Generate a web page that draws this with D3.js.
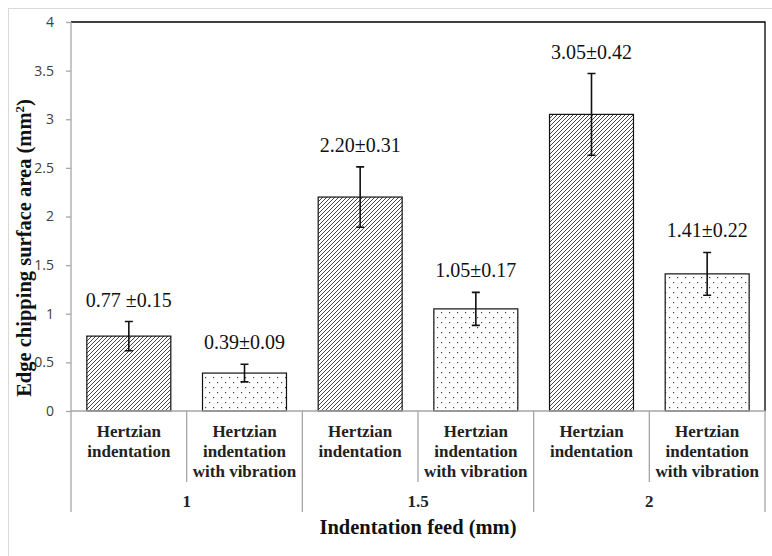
<!DOCTYPE html>
<html>
<head>
<meta charset="utf-8">
<script src="https://cdn.jsdelivr.net/npm/d3@7"></script>
<style>
  html, body { margin: 0; padding: 0; background: #fff; }
  svg { display: block; }
</style>
</head>
<body>
<svg id="chart" width="772" height="556"></svg>
<script>
// Edge chipping surface area by indentation feed and method
const feeds = ["1", "1.5", "2"];
const methods = ["Hertzian indentation", "Hertzian indentation with vibration"];
const methodLines = [["Hertzian", "indentation"], ["Hertzian", "indentation", "with vibration"]];
const meanArea = [0.77, 0.39, 2.20, 1.05, 3.05, 1.41];
const stdDev = [0.15, 0.09, 0.31, 0.17, 0.42, 0.22];
const valueLabels = ["0.77 \u00b10.15", "0.39\u00b10.09", "2.20\u00b10.31", "1.05\u00b10.17", "3.05\u00b10.42", "1.41\u00b10.22"];
const yTicks = [0, 0.5, 1, 1.5, 2, 2.5, 3, 3.5, 4];

const rows = meanArea.map((v, i) => ({
  key: i,
  feed: feeds[Math.floor(i / 2)],
  method: i % 2,
  value: v,
  sd: stdDev[i],
  label: valueLabels[i]
}));

const svg = d3.select("#chart");
const plot = { left: 71, right: 765, top: 22, bottom: 411 };
const serif = "'Liberation Serif', 'Times New Roman', serif";
const axisGrey = "#a6a6a6";

// outer chart frame
svg.append("rect")
  .attr("x", 8.5).attr("y", 8.5).attr("width", 820).attr("height", 620)
  .attr("fill", "#fff").attr("stroke", "#d9d9d9").attr("stroke-width", 1);

// fill patterns
const defs = svg.append("defs");
const hatch = defs.append("pattern")
  .attr("id", "hatch").attr("patternUnits", "userSpaceOnUse")
  .attr("width", 4).attr("height", 4);
hatch.append("rect").attr("width", 4).attr("height", 4).attr("fill", "#fff");
hatch.append("path")
  .attr("d", "M-1,1 L1,-1 M0,4 L4,0 M3,5 L5,3")
  .attr("stroke", "#333").attr("stroke-width", 0.9);

const dots = defs.append("pattern")
  .attr("id", "dots").attr("patternUnits", "userSpaceOnUse")
  .attr("width", 8).attr("height", 10);
dots.append("rect").attr("width", 8).attr("height", 10).attr("fill", "#fff");
dots.append("rect").attr("x", 1).attr("y", 2).attr("width", 1.2).attr("height", 1.2).attr("fill", "#444");
dots.append("rect").attr("x", 5).attr("y", 7).attr("width", 1.2).attr("height", 1.2).attr("fill", "#444");

// scales
const x = d3.scaleBand()
  .domain(rows.map(d => d.key))
  .range([plot.left, plot.right])
  .paddingInner(0.274)
  .paddingOuter(0.137);
const xGroup = d3.scaleBand()
  .domain(feeds)
  .range([plot.left, plot.right]);
const y = d3.scaleLinear().domain([0, 4]).range([plot.bottom, plot.top]);

// plot area frame (top and right)
svg.append("path")
  .attr("d", `M${plot.left},${plot.top} H${plot.right} V${plot.bottom}`)
  .attr("fill", "none").attr("stroke", "#000").attr("stroke-width", 1.3);

// y axis
const yAxis = d3.axisLeft(y).tickValues(yTicks).tickSize(5).tickPadding(12)
  .tickFormat(d3.format("~g"));
const gy = svg.append("g").attr("transform", `translate(${plot.left},0)`).call(yAxis);
gy.select(".domain").remove();
gy.selectAll(".tick line").attr("stroke", axisGrey).attr("stroke-width", 1.3);
gy.selectAll(".tick text")
  .attr("fill", "#404040")
  .style("font-family", "'Open Sans', 'Liberation Sans', sans-serif")
  .style("font-size", "14px");

// bars
svg.append("g").selectAll("rect")
  .data(rows).join("rect")
  .attr("x", d => x(d.key))
  .attr("y", d => y(d.value))
  .attr("width", x.bandwidth())
  .attr("height", d => y(0) - y(d.value))
  .attr("fill", d => d.method === 0 ? "url(#hatch)" : "url(#dots)")
  .attr("stroke", "#111").attr("stroke-width", 1.2);

// error bars
const err = svg.append("g").attr("stroke", "#111").attr("stroke-width", 1.6).attr("fill", "none");
err.selectAll("path")
  .data(rows).join("path")
  .attr("d", d => {
    const cx = x(d.key) + x.bandwidth() / 2;
    const t = y(d.value + d.sd), b = y(d.value - d.sd);
    return `M${cx - 4},${t} H${cx + 4} M${cx},${t} V${b} M${cx - 4},${b} H${cx + 4}`;
  });

// value labels
svg.append("g").selectAll("text")
  .data(rows).join("text")
  .attr("x", d => x(d.key) + x.bandwidth() / 2)
  .attr("y", d => y(d.value + d.sd) - 15)
  .attr("text-anchor", "middle")
  .style("font-family", serif)
  .style("font-size", "20px")
  .attr("fill", "#111")
  .text(d => d.label);

// x axis baseline and separators
const xa = svg.append("g").attr("stroke", axisGrey).attr("stroke-width", 1.3);
xa.append("line")
  .attr("x1", plot.left).attr("x2", plot.right)
  .attr("y1", plot.bottom).attr("y2", plot.bottom);
xa.append("line")
  .attr("x1", plot.left).attr("x2", plot.left)
  .attr("y1", plot.top).attr("y2", 512);
xa.selectAll(".sep-inner")
  .data(feeds).join("line")
  .attr("class", "sep-inner")
  .attr("x1", d => xGroup(d) + xGroup.bandwidth() / 2)
  .attr("x2", d => xGroup(d) + xGroup.bandwidth() / 2)
  .attr("y1", plot.bottom).attr("y2", 482);
xa.selectAll(".sep-group")
  .data(feeds).join("line")
  .attr("class", "sep-group")
  .attr("x1", d => xGroup(d) + xGroup.bandwidth())
  .attr("x2", d => xGroup(d) + xGroup.bandwidth())
  .attr("y1", plot.bottom).attr("y2", 512);

// category labels
const catG = svg.append("g")
  .style("font-family", serif).style("font-size", "17px").style("font-weight", "bold")
  .attr("fill", "#222").attr("text-anchor", "middle");
rows.forEach(d => {
  const cx = x(d.key) + x.bandwidth() / 2;
  const t = catG.append("text").attr("x", cx).attr("y", 437);
  methodLines[d.method].forEach((ln, j) => {
    t.append("tspan").attr("x", cx).attr("dy", j === 0 ? 0 : 19.8).text(ln);
  });
});

// feed group labels
svg.append("g").selectAll("text")
  .data(feeds).join("text")
  .attr("x", d => xGroup(d) + xGroup.bandwidth() / 2)
  .attr("y", 507)
  .attr("text-anchor", "middle")
  .style("font-family", serif).style("font-size", "17px").style("font-weight", "bold")
  .attr("fill", "#222")
  .text(d => d);

// axis titles
svg.append("text")
  .attr("x", (plot.left + plot.right) / 2).attr("y", 534)
  .attr("text-anchor", "middle")
  .style("font-family", serif).style("font-size", "20.5px").style("font-weight", "bold")
  .attr("fill", "#111")
  .text("Indentation feed (mm)");

const yTitle = svg.append("text")
  .attr("transform", "translate(31,248) rotate(-90)")
  .attr("text-anchor", "middle")
  .style("font-family", serif).style("font-size", "20.5px").style("font-weight", "bold")
  .attr("fill", "#111");
yTitle.append("tspan").text("Edge chipping surface area (mm");
yTitle.append("tspan").attr("dy", -7).style("font-size", "13px").text("2");
yTitle.append("tspan").attr("dy", 7).text(")");
</script>
</body>
</html>
